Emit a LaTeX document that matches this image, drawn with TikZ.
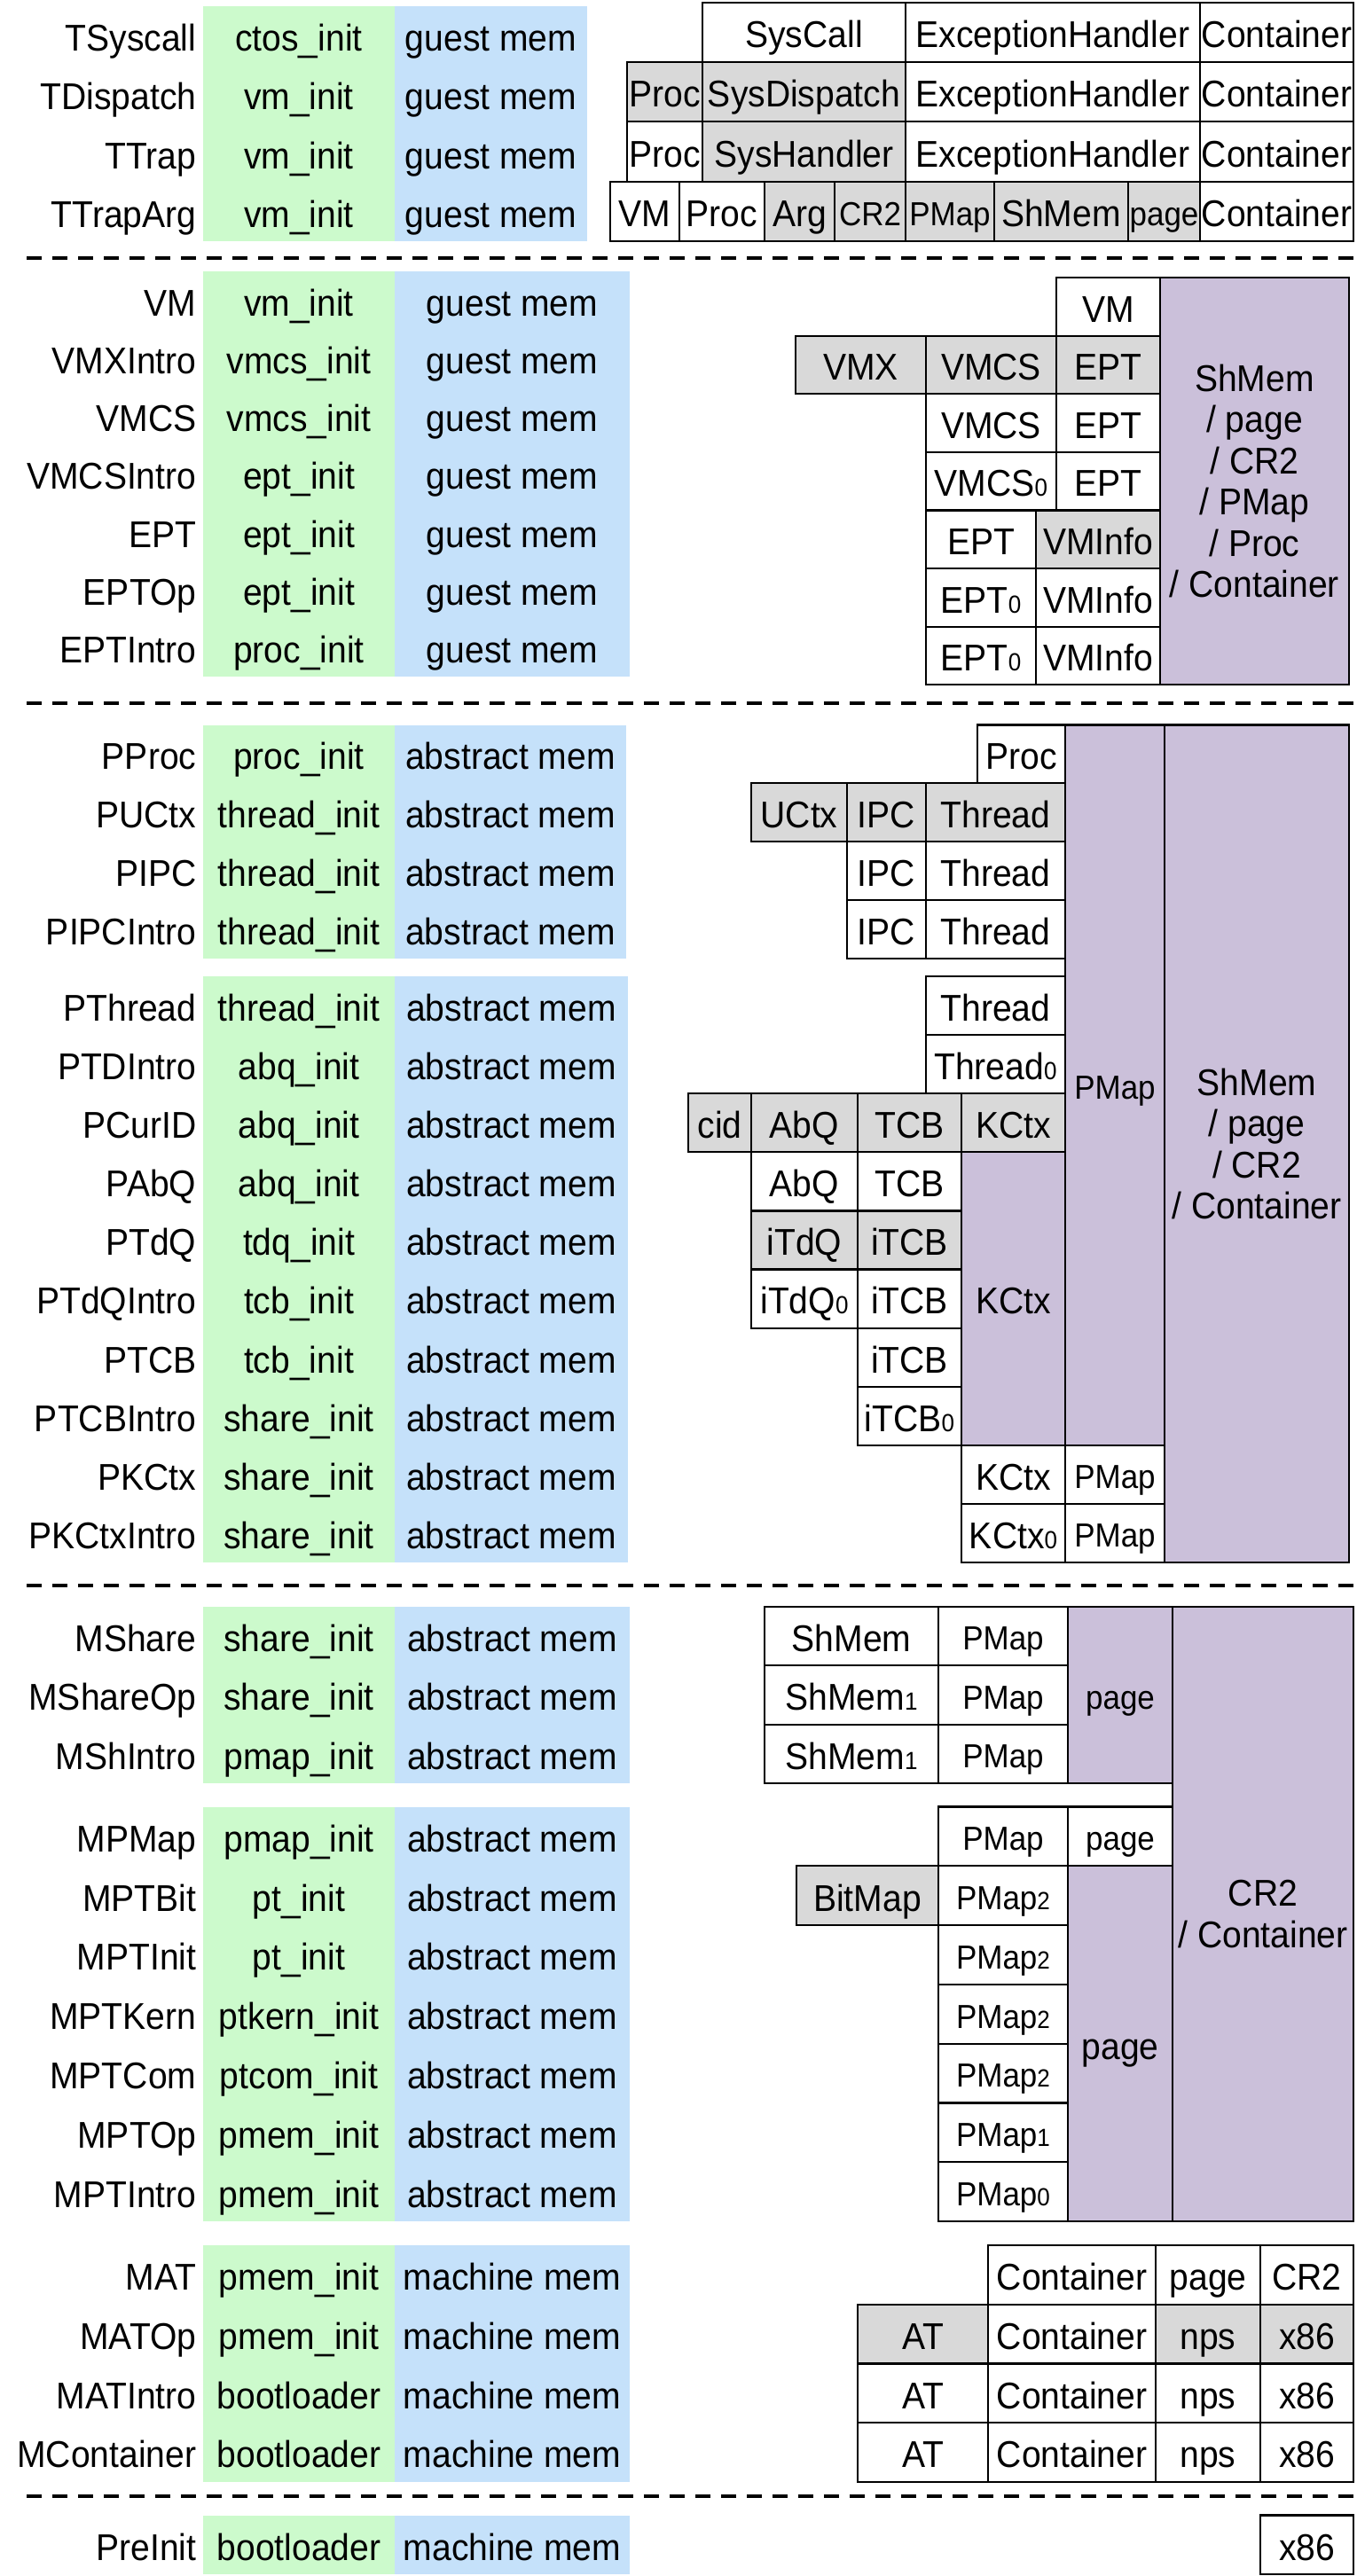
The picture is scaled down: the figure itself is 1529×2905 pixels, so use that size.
\documentclass[tikz,border=0pt]{standalone}
\usepackage{fontspec}
\setmainfont{Liberation Sans}[FakeStretch=0.93]
\definecolor{cgreen}{RGB}{204,250,204}
\definecolor{cblue}{RGB}{197,225,250}
\definecolor{cgray}{RGB}{217,217,217}
\definecolor{cpurple}{RGB}{203,192,218}
\newcommand\sbs[1]{{\fontsize{28}{28}\selectfont#1}}
\newcommand\bx[7]{\node[cellbox,#6,minimum width={#4pt-#2pt},minimum height={#5pt-#3pt}] (#1) at ({(#2+#4)/2},{(#3+#5)/2}) {\makebox[0pt]{#7}};}
\newcommand\lrow[7]{%
  \node[lab] (#1) at (221.5,{(#2+#3)/2}) {#4};
  \bx{#1g}{229}{#2}{445}{#3}{gcell}{#5}
  \bx{#1b}{445}{#2}{#7}{#3}{bcell}{#6}}
\tikzset{
  cellbox/.style={draw=black, line width=2.2pt, inner sep=0pt, outer sep=0pt,
    text height=34.7pt, text depth=0pt, font=\fontsize{42}{47}\selectfont},
  wb/.style={fill=white},
  gb/.style={fill=cgray},
  pb/.style={fill=cpurple},
  small/.style={font=\fontsize{37.6}{42}\selectfont, text height=31.5pt},
  gcell/.style={fill=cgreen, draw=none},
  bcell/.style={fill=cblue, draw=none},
  lab/.style={anchor=east, inner sep=0pt, text height=34.7pt, text depth=0pt,
    font=\fontsize{42}{47}\selectfont},
  pbox/.style={draw=black, line width=2.2pt, fill=cpurple, inner sep=0pt, align=center,
    font=\fontsize{42}{46.5}\selectfont},
  dashline/.style={line width=3.5pt, dash pattern=on 17pt off 12pt}
}
\begin{document}
\begin{tikzpicture}[x=1pt,y=-1pt]
\useasboundingbox (0,0) rectangle (1529,2905);
% ---------- T section
\lrow{ta}{7}{73.3}{TSyscall}{ctos\_init}{guest mem}{662}
\lrow{tb}{73.3}{139.6}{TDispatch}{vm\_init}{guest mem}{662}
\lrow{tc}{139.6}{205.9}{TTrap}{vm\_init}{guest mem}{662}
\lrow{td}{205.9}{272.2}{TTrapArg}{vm\_init}{guest mem}{662}
\bx{r1a}{792}{3}{1021}{70}{wb}{SysCall}
\bx{r1b}{1021}{3}{1353}{70}{wb}{ExceptionHandler}
\bx{r1c}{1353}{3}{1526}{70}{wb}{Container}
\bx{r2a}{707}{70}{792}{137}{gb}{Proc}
\bx{r2b}{792}{70}{1021}{137}{gb}{SysDispatch}
\bx{r2c}{1021}{70}{1353}{137}{wb}{ExceptionHandler}
\bx{r2d}{1353}{70}{1526}{137}{wb}{Container}
\bx{r3a}{707}{137}{792}{205}{wb}{Proc}
\bx{r3b}{792}{137}{1021}{205}{gb}{SysHandler}
\bx{r3c}{1021}{137}{1353}{205}{wb}{ExceptionHandler}
\bx{r3d}{1353}{137}{1526}{205}{wb}{Container}
\bx{r4a}{688}{205}{766}{272}{wb}{VM}
\bx{r4b}{766}{205}{862}{272}{wb}{Proc}
\bx{r4c}{862}{205}{941}{272}{gb}{Arg}
\bx{r4d}{941}{205}{1021}{272}{gb,small}{CR2}
\bx{r4e}{1021}{205}{1121}{272}{gb,small}{PMap}
\bx{r4f}{1121}{205}{1272}{272}{gb}{ShMem}
\bx{r4g}{1272}{205}{1353}{272}{gb,small}{page}
\bx{r4h}{1353}{205}{1526}{272}{wb}{Container}
\coordinate (d1a) at (30,291); \coordinate (d1b) at (1529,291);
\draw[dashline] (d1a) -- (d1b);
% ---------- VM section
\lrow{va}{306}{371.3}{VM}{vm\_init}{guest mem}{710}
\lrow{vb}{371.3}{436.6}{VMXIntro}{vmcs\_init}{guest mem}{710}
\lrow{vc}{436.6}{501.9}{VMCS}{vmcs\_init}{guest mem}{710}
\lrow{vd}{501.9}{567.2}{VMCSIntro}{ept\_init}{guest mem}{710}
\lrow{ve}{567.2}{632.5}{EPT}{ept\_init}{guest mem}{710}
\lrow{vf}{632.5}{697.8}{EPTOp}{ept\_init}{guest mem}{710}
\lrow{vg}{697.8}{763.1}{EPTIntro}{proc\_init}{guest mem}{710}
\bx{vr0}{1191}{313}{1308}{378.6}{wb}{VM}
\bx{vr1a}{897}{378.6}{1044}{444.2}{gb}{VMX}
\bx{vr1b}{1044}{378.6}{1191}{444.2}{gb}{VMCS}
\bx{vr1c}{1191}{378.6}{1308}{444.2}{gb}{EPT}
\bx{vr2a}{1044}{444.2}{1191}{509.8}{wb}{VMCS}
\bx{vr2b}{1191}{444.2}{1308}{509.8}{wb}{EPT}
\bx{vr3a}{1044}{509.8}{1191}{575.4}{wb}{VMCS\sbs{0}}
\bx{vr3b}{1191}{509.8}{1308}{575.4}{wb}{EPT}
\bx{vr4a}{1044}{575.4}{1168}{641}{wb}{EPT}
\bx{vr4b}{1168}{575.4}{1308}{641}{gb}{VMInfo}
\bx{vr5a}{1044}{641}{1168}{706.6}{wb}{EPT\sbs{0}}
\bx{vr5b}{1168}{641}{1308}{706.6}{wb}{VMInfo}
\bx{vr6a}{1044}{706.6}{1168}{772.2}{wb}{EPT\sbs{0}}
\bx{vr6b}{1168}{706.6}{1308}{772.2}{wb}{VMInfo}
\node[pbox, minimum width=213pt, minimum height=459.2pt] (vp) at (1414.5,542.6)
  {ShMem\\/ page\\/ CR2\\/ PMap\\/ Proc\\/ Container};
\coordinate (d2a) at (30,793); \coordinate (d2b) at (1529,793);
\draw[dashline] (d2a) -- (d2b);
% ---------- P section
\lrow{pa}{817.5}{883.3}{PProc}{proc\_init}{abstract mem}{706}
\lrow{pb}{883.3}{949.1}{PUCtx}{thread\_init}{abstract mem}{706}
\lrow{pc}{949.1}{1014.9}{PIPC}{thread\_init}{abstract mem}{706}
\lrow{pd}{1014.9}{1080.7}{PIPCIntro}{thread\_init}{abstract mem}{706}
\lrow{pe}{1101}{1167.1}{PThread}{thread\_init}{abstract mem}{708}
\lrow{pf}{1167.1}{1233.2}{PTDIntro}{abq\_init}{abstract mem}{708}
\lrow{pg}{1233.2}{1299.3}{PCurID}{abq\_init}{abstract mem}{708}
\lrow{ph}{1299.3}{1365.4}{PAbQ}{abq\_init}{abstract mem}{708}
\lrow{pi}{1365.4}{1431.5}{PTdQ}{tdq\_init}{abstract mem}{708}
\lrow{pj}{1431.5}{1497.6}{PTdQIntro}{tcb\_init}{abstract mem}{708}
\lrow{pk}{1497.6}{1563.7}{PTCB}{tcb\_init}{abstract mem}{708}
\lrow{pl}{1563.7}{1629.8}{PTCBIntro}{share\_init}{abstract mem}{708}
\lrow{pm}{1629.8}{1695.9}{PKCtx}{share\_init}{abstract mem}{708}
\lrow{pn}{1695.9}{1762}{PKCtxIntro}{share\_init}{abstract mem}{708}
\bx{pr0}{1102}{817.5}{1201}{883.3}{wb}{Proc}
\bx{pr1a}{847}{883.3}{955}{949.1}{gb}{UCtx}
\bx{pr1b}{955}{883.3}{1044}{949.1}{gb}{IPC}
\bx{pr1c}{1044}{883.3}{1201}{949.1}{gb}{Thread}
\bx{pr2a}{955}{949.1}{1044}{1014.9}{wb}{IPC}
\bx{pr2b}{1044}{949.1}{1201}{1014.9}{wb}{Thread}
\bx{pr3a}{955}{1014.9}{1044}{1080.7}{wb}{IPC}
\bx{pr3b}{1044}{1014.9}{1201}{1080.7}{wb}{Thread}
\bx{pr4}{1044}{1101}{1201}{1167.1}{wb}{Thread}
\bx{pr5}{1044}{1167.1}{1201}{1233.2}{wb}{Thread\sbs{0}}
\bx{pr6a}{776}{1233.2}{847}{1299.3}{gb}{cid}
\bx{pr6b}{847}{1233.2}{967}{1299.3}{gb}{AbQ}
\bx{pr6c}{967}{1233.2}{1084}{1299.3}{gb}{TCB}
\bx{pr6d}{1084}{1233.2}{1201}{1299.3}{gb}{KCtx}
\bx{pr7a}{847}{1299.3}{967}{1365.4}{wb}{AbQ}
\bx{pr7b}{967}{1299.3}{1084}{1365.4}{wb}{TCB}
\bx{pr8a}{847}{1365.4}{967}{1431.5}{gb}{iTdQ}
\bx{pr8b}{967}{1365.4}{1084}{1431.5}{gb}{iTCB}
\bx{pr9a}{847}{1431.5}{967}{1497.6}{wb}{iTdQ\sbs{0}}
\bx{pr9b}{967}{1431.5}{1084}{1497.6}{wb}{iTCB}
\bx{pr10}{967}{1497.6}{1084}{1563.7}{wb}{iTCB}
\bx{pr11}{967}{1563.7}{1084}{1629.8}{wb}{iTCB\sbs{0}}
\bx{prk}{1084}{1299.3}{1201}{1629.8}{pb}{KCtx}
\bx{pr12a}{1084}{1629.8}{1201}{1695.9}{wb}{KCtx}
\bx{pr12b}{1201}{1629.8}{1313}{1695.9}{wb,small}{PMap}
\bx{pr13a}{1084}{1695.9}{1201}{1762}{wb}{KCtx\sbs{0}}
\bx{pr13b}{1201}{1695.9}{1313}{1762}{wb,small}{PMap}
\bx{prp}{1201}{817.5}{1313}{1629.8}{pb,small}{PMap}
\node[pbox, minimum width=208pt, minimum height=944.5pt] (prs) at (1417,1289.75)
  {ShMem\\/ page\\/ CR2\\/ Container};
\coordinate (d3a) at (30,1788); \coordinate (d3b) at (1529,1788);
\draw[dashline] (d3a) -- (d3b);
% ---------- M section
\lrow{ma}{1812}{1878.3}{MShare}{share\_init}{abstract mem}{710}
\lrow{mb}{1878.3}{1944.6}{MShareOp}{share\_init}{abstract mem}{710}
\lrow{mc}{1944.6}{2010.9}{MShIntro}{pmap\_init}{abstract mem}{710}
\bx{mr0a}{862}{1812}{1058}{1878.3}{wb}{ShMem}
\bx{mr0b}{1058}{1812}{1204}{1878.3}{wb,small}{PMap}
\bx{mr1a}{862}{1878.3}{1058}{1944.6}{wb}{ShMem\sbs{1}}
\bx{mr1b}{1058}{1878.3}{1204}{1944.6}{wb,small}{PMap}
\bx{mr2a}{862}{1944.6}{1058}{2010.9}{wb}{ShMem\sbs{1}}
\bx{mr2b}{1058}{1944.6}{1204}{2010.9}{wb,small}{PMap}
\bx{mrpg}{1204}{1812}{1322}{2010.9}{pb,small}{page}
\node[pbox, minimum width=204pt, minimum height=693.1pt] (mrc) at (1424,2158.55)
  {CR2\\/ Container};
\lrow{md}{2037.5}{2104.3}{MPMap}{pmap\_init}{abstract mem}{710}
\lrow{me}{2104.3}{2171.1}{MPTBit}{pt\_init}{abstract mem}{710}
\lrow{mf}{2171.1}{2237.9}{MPTInit}{pt\_init}{abstract mem}{710}
\lrow{mg}{2237.9}{2304.7}{MPTKern}{ptkern\_init}{abstract mem}{710}
\lrow{mh}{2304.7}{2371.5}{MPTCom}{ptcom\_init}{abstract mem}{710}
\lrow{mi}{2371.5}{2438.3}{MPTOp}{pmem\_init}{abstract mem}{710}
\lrow{mj}{2438.3}{2505.1}{MPTIntro}{pmem\_init}{abstract mem}{710}
\bx{ms0a}{1058}{2037.5}{1204}{2104.3}{wb,small}{PMap}
\bx{ms0b}{1204}{2037.5}{1322}{2104.3}{wb,small}{page}
\bx{ms1a}{898}{2104.3}{1058}{2171.1}{gb}{BitMap}
\bx{ms1b}{1058}{2104.3}{1204}{2171.1}{wb,small}{PMap\sbs{2}}
\bx{ms2}{1058}{2171.1}{1204}{2237.9}{wb,small}{PMap\sbs{2}}
\bx{ms3}{1058}{2237.9}{1204}{2304.7}{wb,small}{PMap\sbs{2}}
\bx{ms4}{1058}{2304.7}{1204}{2371.5}{wb,small}{PMap\sbs{2}}
\bx{ms5}{1058}{2371.5}{1204}{2438.3}{wb,small}{PMap\sbs{1}}
\bx{ms6}{1058}{2438.3}{1204}{2505.1}{wb,small}{PMap\sbs{0}}
\bx{mspg}{1204}{2104.3}{1322}{2505.1}{pb}{page}
% ---------- MAT section
\lrow{na}{2532}{2598.7}{MAT}{pmem\_init}{machine mem}{710}
\lrow{nb}{2598.7}{2665.4}{MATOp}{pmem\_init}{machine mem}{710}
\lrow{nc}{2665.4}{2732.1}{MATIntro}{bootloader}{machine mem}{710}
\lrow{nd}{2732.1}{2798.8}{MContainer}{bootloader}{machine mem}{710}
\bx{nr0a}{1114}{2532}{1303}{2598.7}{wb}{Container}
\bx{nr0b}{1303}{2532}{1421}{2598.7}{wb}{page}
\bx{nr0c}{1421}{2532}{1526}{2598.7}{wb}{CR2}
\bx{nr1a}{967}{2598.7}{1114}{2665.4}{gb}{AT}
\bx{nr1b}{1114}{2598.7}{1303}{2665.4}{wb}{Container}
\bx{nr1c}{1303}{2598.7}{1421}{2665.4}{gb}{nps}
\bx{nr1d}{1421}{2598.7}{1526}{2665.4}{gb}{x86}
\bx{nr2a}{967}{2665.4}{1114}{2732.1}{wb}{AT}
\bx{nr2b}{1114}{2665.4}{1303}{2732.1}{wb}{Container}
\bx{nr2c}{1303}{2665.4}{1421}{2732.1}{wb}{nps}
\bx{nr2d}{1421}{2665.4}{1526}{2732.1}{wb}{x86}
\bx{nr3a}{967}{2732.1}{1114}{2798.8}{wb}{AT}
\bx{nr3b}{1114}{2732.1}{1303}{2798.8}{wb}{Container}
\bx{nr3c}{1303}{2732.1}{1421}{2798.8}{wb}{nps}
\bx{nr3d}{1421}{2732.1}{1526}{2798.8}{wb}{x86}
\coordinate (d4a) at (30,2815); \coordinate (d4b) at (1529,2815);
\draw[dashline] (d4a) -- (d4b);
% ---------- PreInit
\lrow{pre}{2836.5}{2903}{PreInit}{bootloader}{machine mem}{710}
\bx{x86}{1421}{2836.5}{1526}{2903}{wb}{x86}
\end{tikzpicture}
\end{document}
